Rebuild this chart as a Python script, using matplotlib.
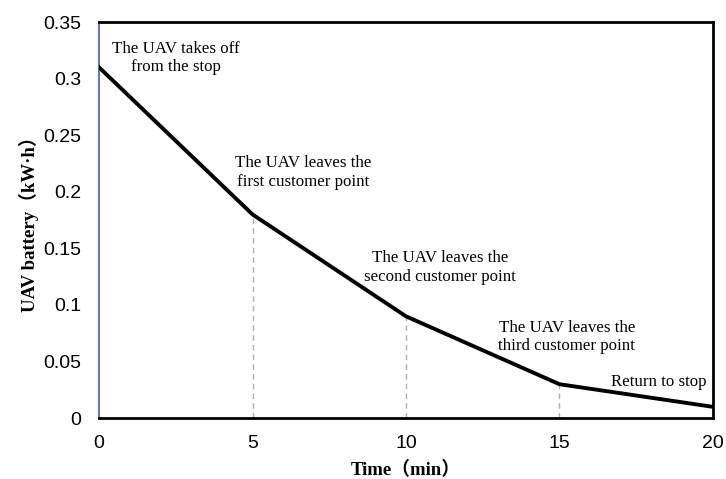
import matplotlib
matplotlib.use("Agg")
import matplotlib.pyplot as plt

time_min = [0, 5, 10, 15, 20]
battery = [0.31, 0.18, 0.09, 0.03, 0.01]
xticks = [0, 5, 10, 15, 20]
yticks = [0, 0.05, 0.1, 0.15, 0.2, 0.25, 0.3, 0.35]
ytick_labels = ["0", "0.05", "0.1", "0.15", "0.2", "0.25", "0.3", "0.35"]
notes = ["The UAV takes off\nfrom the stop",
         "The UAV leaves the\nfirst customer point",
         "The UAV leaves the\nsecond customer point",
         "The UAV leaves the\nthird customer point",
         "Return to stop"]
note_x = [2.51, 6.66, 11.1, 15.24, 18.24]
note_y = [0.318, 0.217, 0.133, 0.0716, 0.0318]

fig = plt.figure(figsize=(7.26, 4.79), dpi=100)
ax = fig.add_axes([0.1364, 0.127, 0.982 - 0.1364, 0.954 - 0.127])

for x, y in zip(time_min[1:4], battery[1:4]):
    ax.plot([x, x], [0, y], color="#b0b0b0", lw=1, ls=(0, (4, 3)), zorder=1)

ax.plot(time_min, battery, color="black", lw=2.8, zorder=3, solid_joinstyle="round")

ax.set_xlim(0, 20)
ax.set_ylim(0, 0.35)
ax.set_xticks(xticks)
ax.set_yticks(yticks)
ax.set_yticklabels(ytick_labels)
ax.tick_params(length=0, labelsize=14)
ax.tick_params(axis="x", pad=12)
ax.tick_params(axis="y", pad=13)
for lab in ax.get_xticklabels() + ax.get_yticklabels():
    lab.set_fontfamily("Liberation Sans")

for s in ["top", "right", "bottom"]:
    ax.spines[s].set_linewidth(2)
    ax.spines[s].set_color("black")
ax.spines["left"].set_color("#5b7db0")
ax.spines["left"].set_linewidth(1.5)

for t, x, y in zip(notes, note_x, note_y):
    ax.text(x, y, t, ha="center", va="center", fontsize=12.2,
            family="Liberation Serif", linespacing=1.2, zorder=4)

lab_font = ["Liberation Serif", "Noto Sans CJK SC"]
ax.set_xlabel("Time（min）", fontsize=13.5, fontweight="bold", family=lab_font, labelpad=7)
ax.set_ylabel("UAV battery（kW·h）", fontsize=13.5, fontweight="bold", family=lab_font, labelpad=3)

fig.savefig("out.png", dpi=100)
